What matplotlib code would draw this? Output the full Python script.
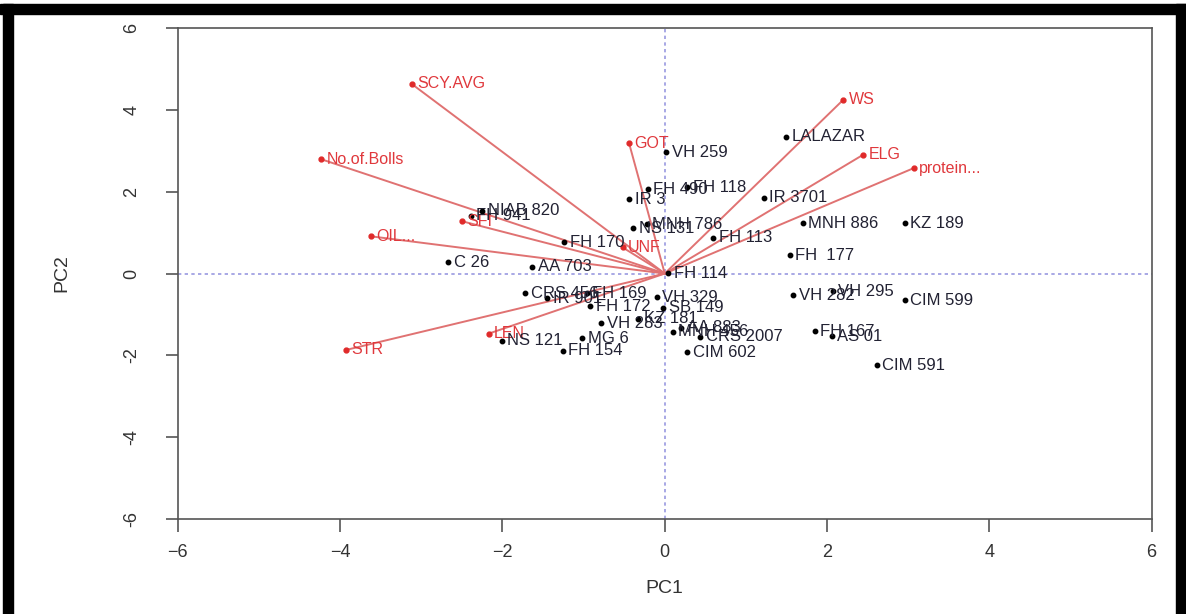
import numpy as np
import matplotlib
matplotlib.use("Agg")
import matplotlib.pyplot as plt
from matplotlib.patches import Rectangle

plt.rcParams['font.family'] = ['Liberation Sans', 'DejaVu Sans']

# genotype scores (PC1, PC2)
gen_names = ["LALAZAR", "VH 259", "FH 490", "FH 118", "IR 3", "IR 3701", "MNH 886",
             "KZ 189", "NS 131", "MNH 786", "FH 113", "FH  177", "FH 170", "NIAB 820",
             "FH 941", "C 26", "AA 703", "FH 114", "CRS 456", "IR 901", "FH 169",
             "VH 329", "FH 172", "SB 149", "KZ 181", "VH 283", "MNH 456", "AA 883",
             "CRS 2007", "CIM 602", "MG 6", "NS 121", "FH 154", "VH 282", "VH 295",
             "CIM 599", "FH 167", "AS 01", "CIM 591"]
gen_pc1 = [1.50, 0.02, -0.21, 0.28, -0.44, 1.22, 1.70,
           2.96, -0.39, -0.22, 0.60, 1.54, -1.24, -2.25,
           -2.39, -2.67, -1.63, 0.04, -1.72, -1.45, -0.96,
           -0.10, -0.92, -0.02, -0.33, -0.78, 0.10, 0.20,
           0.44, 0.28, -1.02, -2.01, -1.26, 1.58, 2.07,
           2.96, 1.85, 2.06, 2.61]
gen_pc2 = [3.34, 2.97, 2.06, 2.11, 1.82, 1.85, 1.23,
           1.23, 1.11, 1.21, 0.87, 0.45, 0.77, 1.53,
           1.41, 0.28, 0.16, 0.01, -0.48, -0.60, -0.48,
           -0.58, -0.80, -0.84, -1.11, -1.21, -1.43, -1.33,
           -1.55, -1.92, -1.58, -1.65, -1.89, -0.53, -0.43,
           -0.65, -1.41, -1.53, -2.24]

# trait loadings (PC1, PC2)
var_names = ["SCY.AVG", "No.of.Bolls", "GOT", "WS", "ELG", "protein...",
             "OIL...", "SFI", "UNF", "LEN", "STR"]
var_pc1 = [-3.12, -4.24, -0.44, 2.20, 2.44, 3.07, -3.62, -2.50, -0.52, -2.17, -3.93]
var_pc2 = [4.64, 2.80, 3.19, 4.25, 2.90, 2.58, 0.91, 1.28, 0.64, -1.47, -1.87]

fig = plt.figure(figsize=(11.86, 6.14), dpi=100)
ax = fig.add_axes([0.150, 0.155, 0.821, 0.799])

ax.axhline(0, color='#9a9ae0', lw=1.2, ls=(0, (2, 2)), zorder=1)
ax.axvline(0, color='#9a9ae0', lw=1.2, ls=(0, (2, 2)), zorder=1)

for vx, vy, vn in zip(var_pc1, var_pc2, var_names):
    ax.plot([0, vx], [0, vy], color='#e07272', lw=1.4, zorder=2)
    ax.plot(vx, vy, 'o', color='#e02a2a', ms=3.5, zorder=3)
    ax.annotate(vn, (vx, vy), xytext=(4, 0), textcoords='offset points',
                ha='left', va='center', fontsize=11.5, color='#e0383c', zorder=4)

ax.plot(gen_pc1, gen_pc2, 'o', color='black', ms=3.2, zorder=3)
for gx, gy, gn in zip(gen_pc1, gen_pc2, gen_names):
    ax.annotate(gn, (gx, gy), xytext=(4, 0), textcoords='offset points',
                ha='left', va='center', fontsize=12, color='#222233', zorder=4)

ax.set_xlim(-6, 6)
ax.set_ylim(-6, 6)
ax.set_xticks(np.arange(-6, 7, 2))
ax.set_yticks(np.arange(-6, 7, 2))
ax.set_yticklabels([str(v) for v in range(-6, 7, 2)], rotation=90, va='center')
ax.tick_params(axis='both', direction='out', length=9, width=1.2, color='#555555',
               labelsize=13, labelcolor='#333333', pad=9)
ax.tick_params(axis='y', pad=18)
for s in ax.spines.values():
    s.set_color('#555555')
    s.set_linewidth(1.2)

ax.set_xlabel('PC1', fontsize=14, color='#333333', labelpad=14)
ax.set_ylabel('PC2', fontsize=14, color='#333333', labelpad=38)

# black frame around the picture
fig.patches.append(Rectangle((0, 1 - 14 / 614), 1, 10 / 614, transform=fig.transFigure,
                             color='black', zorder=10))
fig.patches.append(Rectangle((3 / 1186, 0), 10 / 1186, 1 - 4 / 614, transform=fig.transFigure,
                             color='black', zorder=10))
fig.patches.append(Rectangle((1176 / 1186, 0), 10 / 1186, 1 - 4 / 614, transform=fig.transFigure,
                             color='black', zorder=10))

fig.savefig('out.png', dpi=100)
